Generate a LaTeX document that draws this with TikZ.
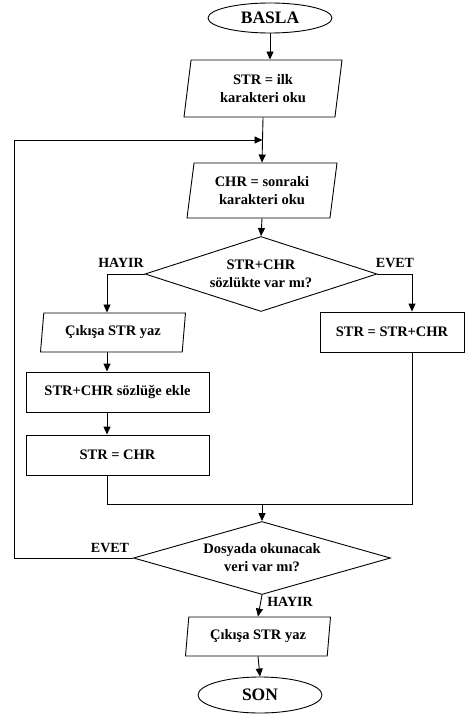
\documentclass[tikz,border=0pt]{standalone}
\usepackage{fontspec}
\setmainfont{Liberation Serif}
\usetikzlibrary{arrows.meta, positioning, shapes.geometric, calc}

\begin{document}
\begin{tikzpicture}[x=1pt, y=-1pt,
  term/.style={draw, ellipse, line width=0.9pt, inner sep=0pt, font=\fontsize{17.5}{20}\selectfont\bfseries},
  io/.style={draw, trapezium, trapezium left angle=76, trapezium right angle=104, trapezium stretches body, line width=0.9pt, inner sep=0pt, align=center, font=\fontsize{14.5}{18}\selectfont\bfseries},
  proc/.style={draw, rectangle, line width=0.9pt, inner sep=0pt, align=center, font=\fontsize{14.5}{18}\selectfont\bfseries},
  cond/.style={draw, diamond, aspect=3, line width=0.9pt, inner sep=0pt, align=center, font=\fontsize{14.5}{18}\selectfont\bfseries},
  arr/.style={-{Triangle[length=8pt, width=7pt]}, line width=0.9pt},
  wire/.style={line width=0.9pt},
  lbl/.style={font=\fontsize{14}{16}\selectfont\bfseries}
]
\useasboundingbox (0,0) rectangle (466,714);

% --- Start / first read ---
\node[term, minimum width=124, minimum height=30] (start) at (270,18) {BASLA};
\node[io, minimum width=158, minimum height=57] (in1) at (263,88.5) {STR = ilk\\karakteri oku};
\node[io, minimum width=150, minimum height=55] (read) at (262,190.5) {CHR = sonraki\\karakteri oku};

% --- Dictionary check ---
\node[cond, minimum width=232, minimum height=75] (q1) at (261,274) {STR+CHR\\sözlükte var mı?};

% --- Left branch (not found) ---
\node[io, minimum width=145, minimum height=39] (out1) at (113,332.5) {Çıkışa STR yaz};
\node[proc, minimum width=183, minimum height=40] (add) at (117.5,392) {STR+CHR sözlüğe ekle};
\node[proc, minimum width=183, minimum height=40] (set) at (117.5,455) {STR = CHR};

% --- Right branch (found) ---
\node[proc, minimum width=144, minimum height=40] (upd) at (392,332) {STR = STR+CHR};

% --- End of input check ---
\node[cond, minimum width=257, minimum height=73] (q2) at (262,558) {Dosyada okunacak\\veri var mı?};
\node[io, minimum width=145, minimum height=39] (out2) at (258,636.5) {Çıkışa STR yaz};
\node[term, minimum width=124, minimum height=36] (stop) at (260,695) {SON};

% --- Helper points ---
\coordinate (loopin) at ($(in1.south)!0.5!(read.north)$);
\coordinate (lcol) at (107,0);
\coordinate (rcol) at (412,0);
\coordinate (back) at (14,0);
\coordinate (merge) at (262,504);

% --- Main flow ---
\draw[arr] (start.south) -- (start.south |- in1.north);
\draw[arr] (in1.south) -- (read.north);
\draw[arr] (read.south) -- (q1.north);

% --- Branches ---
\draw[arr] (q1.west) -| (lcol |- out1.north);
\draw[arr] (q1.east) -| (rcol |- upd.north);
\draw[arr] (lcol |- out1.south) -- (lcol |- add.north);
\draw[arr] (lcol |- add.south) -- (lcol |- set.north);

% --- Merge ---
\draw[wire] (lcol |- set.south) |- (merge);
\draw[wire] (rcol |- upd.south) |- (merge);
\draw[arr] (merge) -- (q2.north);

% --- Loop back ---
\draw[arr] (q2.west) -- (back |- q2.west) |- (loopin);

% --- Exit ---
\draw[arr] (q2.south) -- (out2.north);
\draw[arr] (out2.south) -- (stop.north);

% --- Labels ---
\node[lbl] (q1no) at (121,263) {HAYIR};
\node[lbl] (q1yes) at (395,263) {EVET};
\node[lbl] (q2yes) at (110,548) {EVET};
\node[lbl] (q2no) at (290,602) {HAYIR};

\end{tikzpicture}
\end{document}
